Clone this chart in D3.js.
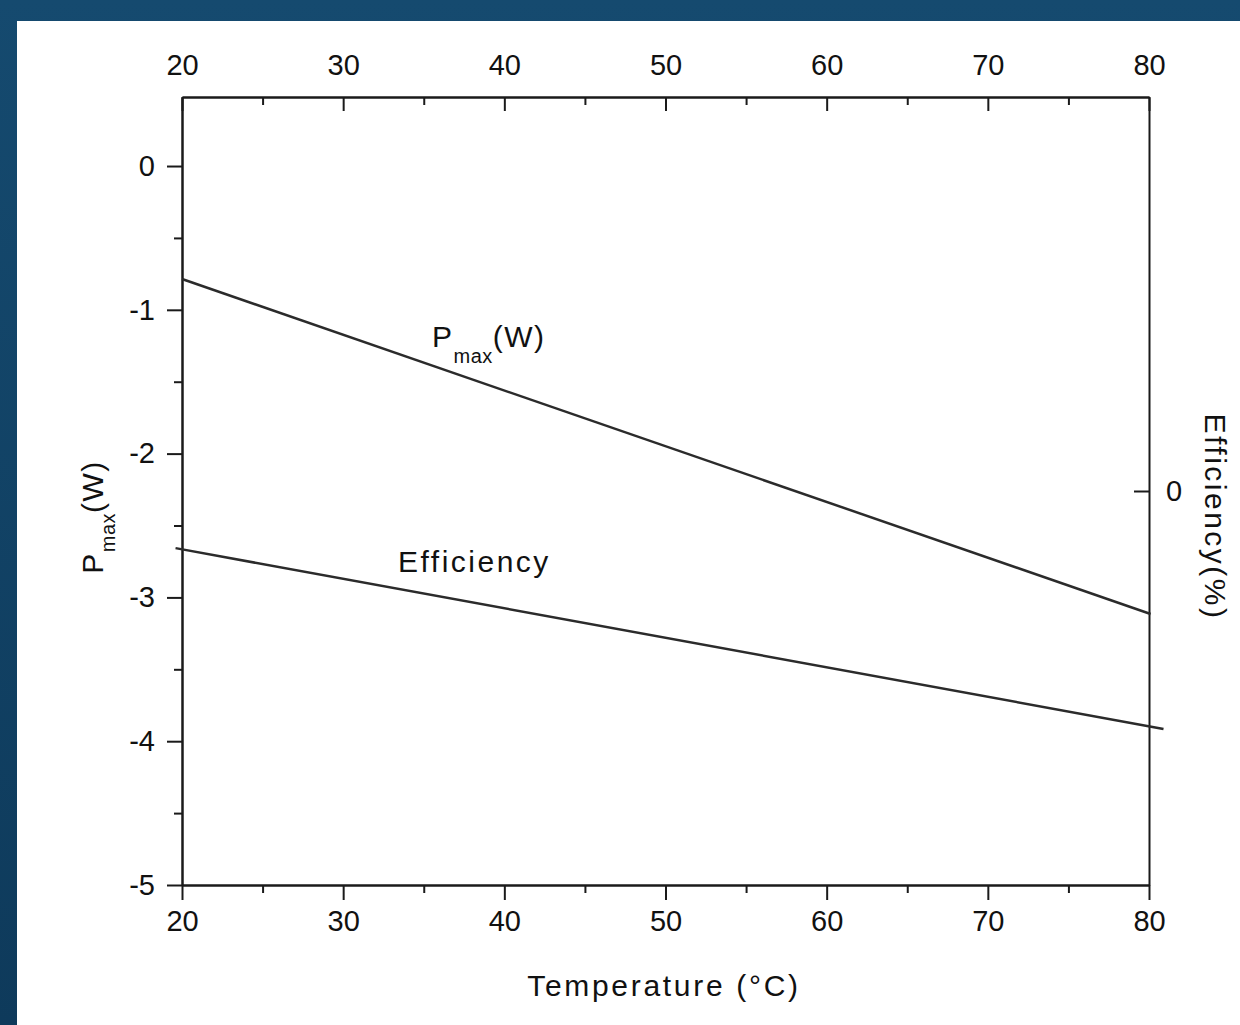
<!DOCTYPE html>
<html>
<head>
<meta charset="utf-8">
<script src="https://cdn.jsdelivr.net/npm/d3@7"></script>
<style>
  html, body { margin: 0; padding: 0; background: #fff; }
  svg { display: block; }
  text { font-family: "Liberation Sans", Arial, sans-serif; fill: #111; }
</style>
</head>
<body>
<svg id="chart" width="1240" height="1025"></svg>
<script>
// ---- data ----
const xTicksMajor = [20, 30, 40, 50, 60, 70, 80];
const xTicksMinor = [25, 35, 45, 55, 65, 75];
const yTicksMajor = [-5, -4, -3, -2, -1, 0];
const yTicksMinor = [-4.5, -3.5, -2.5, -1.5, -0.5];
const yRightTicks = [0];

const pmaxTemp = [20, 80.1];
const pmaxValues = [-0.786, -3.115];

const effTemp = [19.6, 80.9];
const effValues = [-0.145, -0.604];

// ---- layout ----
const W = 1240, H = 1025;
const L = 182, R = 1149, T = 97, B = 885;

const svg = d3.select("#chart");

const defs = svg.append("defs");
const grad = defs.append("linearGradient").attr("id", "bg")
  .attr("x1", "0").attr("y1", "0").attr("x2", "0").attr("y2", "1");
grad.append("stop").attr("offset", "0").attr("stop-color", "#154a6f");
grad.append("stop").attr("offset", "1").attr("stop-color", "#0e3a5b");

svg.append("rect").attr("width", W).attr("height", H).attr("fill", "url(#bg)");
svg.append("rect").attr("x", 17).attr("y", 21).attr("width", W - 17).attr("height", H - 21).attr("fill", "#fff");

const x = d3.scaleLinear().domain([20, 80]).range([L, R]);
const y = d3.scaleLinear().domain([-5, 0.48]).range([B, T]);
const yR = d3.scaleLinear().domain([-1, 1]).range([B, T]);

const axisColor = "#1a1a1a";
const tickFont = 29;

function styleAxis(g) {
  g.selectAll("path.domain").attr("stroke", axisColor).attr("stroke-width", 2);
  g.selectAll(".tick line").attr("stroke", axisColor).attr("stroke-width", 2);
  g.selectAll(".tick text").attr("font-size", tickFont).attr("fill", "#111")
    .attr("font-family", "Liberation Sans, Arial, sans-serif");
}

// bottom axis
const gB = svg.append("g").attr("transform", `translate(0,${B})`)
  .call(d3.axisBottom(x).tickValues(xTicksMajor).tickSize(15).tickSizeOuter(0).tickPadding(10).tickFormat(d => String(d)));
styleAxis(gB);
const gBm = svg.append("g").attr("transform", `translate(0,${B})`)
  .call(d3.axisBottom(x).tickValues(xTicksMinor).tickSize(8).tickSizeOuter(0).tickFormat(""));
styleAxis(gBm);

// top axis (ticks inward)
const gT = svg.append("g").attr("transform", `translate(0,${T})`)
  .call(d3.axisTop(x).tickValues(xTicksMajor).tickSize(-14).tickSizeOuter(0).tickPadding(22).tickFormat(d => String(d)));
styleAxis(gT);
const gTm = svg.append("g").attr("transform", `translate(0,${T})`)
  .call(d3.axisTop(x).tickValues(xTicksMinor).tickSize(-8).tickSizeOuter(0).tickFormat(""));
styleAxis(gTm);

// left axis
const gL = svg.append("g").attr("transform", `translate(${L},0)`)
  .call(d3.axisLeft(y).tickValues(yTicksMajor).tickSize(15).tickSizeOuter(0).tickPadding(12).tickFormat(d => String(d)));
styleAxis(gL);
const gLm = svg.append("g").attr("transform", `translate(${L},0)`)
  .call(d3.axisLeft(y).tickValues(yTicksMinor).tickSize(8).tickSizeOuter(0).tickFormat(""));
styleAxis(gLm);

// right axis (tick inward)
const gR = svg.append("g").attr("transform", `translate(${R},0)`)
  .call(d3.axisRight(yR).tickValues(yRightTicks).tickSize(-15).tickSizeOuter(0).tickPadding(17).tickFormat(d => String(d)));
styleAxis(gR);

// lines
const linePmax = d3.line().x((d, i) => x(pmaxTemp[i])).y(d => y(d));
const lineEff = d3.line().x((d, i) => x(effTemp[i])).y(d => yR(d));

svg.append("path").datum(pmaxValues).attr("d", linePmax)
  .attr("fill", "none").attr("stroke", "#2b2b2b").attr("stroke-width", 2.5);
svg.append("path").datum(effValues).attr("d", lineEff)
  .attr("fill", "none").attr("stroke", "#2b2b2b").attr("stroke-width", 2.5);

// in-plot labels
const pl = svg.append("text").attr("x", 432).attr("y", 347)
  .attr("font-size", 30).attr("letter-spacing", 1.5);
pl.append("tspan").text("P");
pl.append("tspan").attr("font-size", 20).attr("dy", 16).attr("letter-spacing", 0.5).text("max");
pl.append("tspan").attr("dy", -16).text("(W)");

svg.append("text").attr("x", 398).attr("y", 572)
  .attr("font-size", 30).attr("letter-spacing", 2.5).text("Efficiency");

// axis titles
svg.append("text").attr("x", 664).attr("y", 996).attr("text-anchor", "middle")
  .attr("font-size", 30).attr("letter-spacing", 2.7).text("Temperature (°C)");

const lt = svg.append("text").attr("transform", "translate(103,517) rotate(-90)")
  .attr("text-anchor", "middle").attr("font-size", 30).attr("letter-spacing", 1.5);
lt.append("tspan").text("P");
lt.append("tspan").attr("font-size", 20).attr("dy", 12).attr("letter-spacing", 0.5).text("max");
lt.append("tspan").attr("dy", -12).text("(W)");

svg.append("text").attr("transform", "translate(1205,517) rotate(90)")
  .attr("text-anchor", "middle").attr("font-size", 30).attr("letter-spacing", 2.5)
  .text("Efficiency(%)");
</script>
</body>
</html>
